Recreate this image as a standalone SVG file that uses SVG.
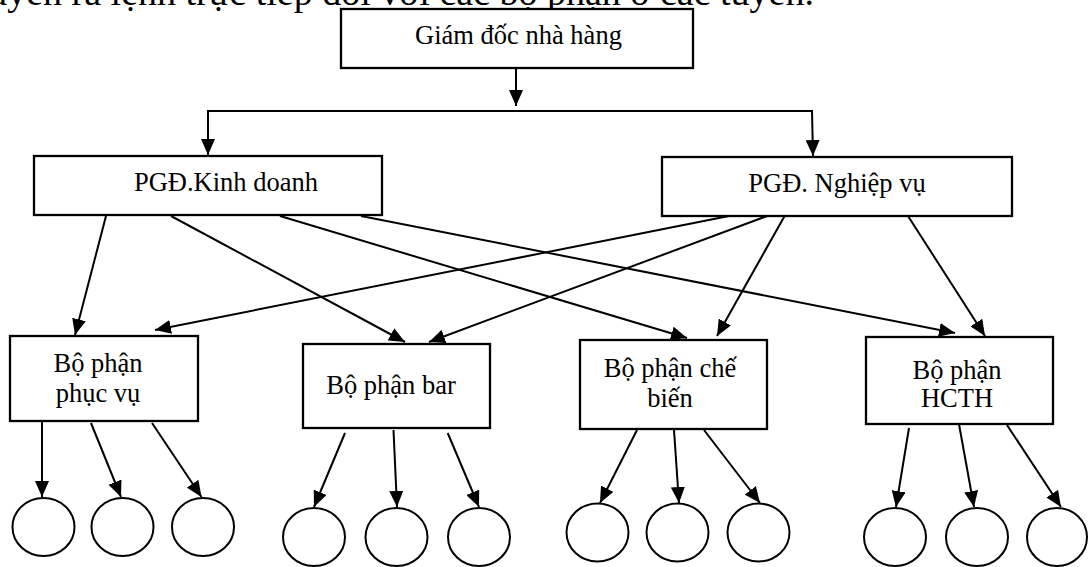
<svg xmlns="http://www.w3.org/2000/svg" width="1089" height="567" viewBox="0 0 1089 567">
<style>
.box{fill:#fff;stroke:#000;stroke-width:2.3}
.lbl{font-family:"Liberation Serif","Times New Roman",serif;font-size:26.5px;fill:#000;text-anchor:middle}
.head{font-family:"Liberation Serif","Times New Roman",serif;font-size:38px;fill:#000;text-anchor:end}
.con{fill:none;stroke:#000;stroke-width:2;marker-end:url(#ah)}
.leaf{fill:#fff;stroke:#000;stroke-width:2}
</style>
<defs>
<marker id="ah" markerUnits="userSpaceOnUse" markerWidth="16" markerHeight="14" refX="16" refY="7" orient="auto">
<path d="M0,0 L16,7 L0,14 z" fill="#000"/>
</marker>
</defs>
<rect width="1089" height="567" fill="#fff"/>
<text class="head" x="814" y="5">tuyến ra lệnh trực tiếp đối với các bộ phận ở các tuyến.</text>

<g id="connectors">
<path class="con" d="M516,68 L516,106"/>
<path class="con" d="M516,111 L208,111 L208,155"/>
<path class="con" d="M516,111 L812,111 L813,156"/>
<path class="con" d="M106,216 L75,335"/>
<path class="con" d="M171,216 L405,342"/>
<path class="con" d="M280,216 L687,338"/>
<path class="con" d="M361,216 L955,333"/>
<path class="con" d="M729,216 L155,330"/>
<path class="con" d="M767,216 L429,342"/>
<path class="con" d="M788,210 L717,336"/>
<path class="con" d="M908,216 L985,336"/>
<path class="con" d="M42,421 L42,497"/>
<path class="con" d="M91,423 L121,497"/>
<path class="con" d="M152,423 L201.5,497"/>
<path class="con" d="M345,433 L314,507"/>
<path class="con" d="M393.5,430 L397,507"/>
<path class="con" d="M447.7,433 L479,507"/>
<path class="con" d="M637,430 L600,503"/>
<path class="con" d="M674,430 L679,503"/>
<path class="con" d="M704,430 L760,503"/>
<path class="con" d="M909,428 L896,507"/>
<path class="con" d="M958.6,422 L974,507"/>
<path class="con" d="M1007,425 L1061,507"/>
</g>

<g id="giam-doc">
<rect class="box" x="341" y="9" width="352" height="59"/>
<text class="lbl" x="518.5" y="44">Giám đốc nhà hàng</text>
</g>
<g id="pgd-kinh-doanh">
<rect class="box" x="34" y="156" width="348" height="59"/>
<text class="lbl" x="226" y="191">PGĐ.Kinh doanh</text>
</g>
<g id="pgd-nghiep-vu">
<rect class="box" x="662" y="157" width="350" height="59"/>
<text class="lbl" x="837" y="192">PGĐ. Nghiệp vụ</text>
</g>
<g id="bp-phuc-vu">
<rect class="box" x="10" y="336" width="188" height="85"/>
<text class="lbl" x="98" y="372">Bộ phận</text>
<text class="lbl" x="98" y="402">phục vụ</text>
</g>
<g id="bp-bar">
<rect class="box" x="303" y="344" width="187" height="84"/>
<text class="lbl" x="391" y="394">Bộ phận bar</text>
</g>
<g id="bp-che-bien">
<rect class="box" x="580" y="340" width="187" height="89"/>
<text class="lbl" x="670" y="377">Bộ phận chế</text>
<text class="lbl" x="670" y="407">biến</text>
</g>
<g id="bp-hcth">
<rect class="box" x="866" y="337" width="187" height="87"/>
<text class="lbl" x="957" y="379">Bộ phận</text>
<text class="lbl" x="957" y="407">HCTH</text>
</g>

<g id="leaf-1-1"><ellipse class="leaf" cx="43.5" cy="527" rx="31" ry="29"/></g>
<g id="leaf-1-2"><ellipse class="leaf" cx="122.5" cy="527" rx="31" ry="29"/></g>
<g id="leaf-1-3"><ellipse class="leaf" cx="203" cy="527" rx="31" ry="29"/></g>
<g id="leaf-2-1"><ellipse class="leaf" cx="314" cy="537" rx="31" ry="29"/></g>
<g id="leaf-2-2"><ellipse class="leaf" cx="396.5" cy="537" rx="31" ry="29"/></g>
<g id="leaf-2-3"><ellipse class="leaf" cx="479" cy="537" rx="31" ry="29"/></g>
<g id="leaf-3-1"><ellipse class="leaf" cx="597.5" cy="532.5" rx="31" ry="29"/></g>
<g id="leaf-3-2"><ellipse class="leaf" cx="677.5" cy="532.5" rx="31" ry="29"/></g>
<g id="leaf-3-3"><ellipse class="leaf" cx="758.5" cy="532.5" rx="31" ry="29"/></g>
<g id="leaf-4-1"><ellipse class="leaf" cx="895" cy="537" rx="31" ry="29"/></g>
<g id="leaf-4-2"><ellipse class="leaf" cx="977" cy="537" rx="31" ry="29"/></g>
<g id="leaf-4-3"><ellipse class="leaf" cx="1057" cy="537" rx="30" ry="29"/></g>
</svg>
